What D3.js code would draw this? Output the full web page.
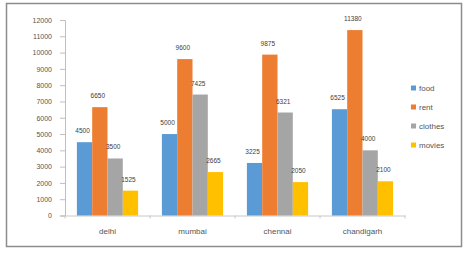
<!DOCTYPE html>
<html>
<head>
<meta charset="utf-8">
<script src="https://cdn.jsdelivr.net/npm/d3@7"></script>
<style>
  body { margin: 0; background: #fff; }
  svg { font-family: "Liberation Sans", Arial, sans-serif; }
</style>
</head>
<body>
<div id="chart"></div>
<script>
const CITIES = ["delhi", "mumbai", "chennai", "chandigarh"];
const SERIES = ["food", "rent", "clothes", "movies"];
const COLORS = ["#5B9BD5", "#ED7D31", "#A5A5A5", "#FFC000"];

const FOOD = [4500, 5000, 3225, 6525];
const RENT = [6650, 9600, 9875, 11380];
const CLOTHES = [3500, 7425, 6321, 4000];
const MOVIES = [1525, 2665, 2050, 2100];

const Y_TICKS = [0, 1000, 2000, 3000, 4000, 5000, 6000, 7000, 8000, 9000, 10000, 11000, 12000];

const FRAME_WIDTH = 466;
const FRAME_HEIGHT = 254;
const PLOT = {left: 65, right: 405, top: 20, bottom: 215.5};

const values = [FOOD, RENT, CLOTHES, MOVIES];

const FRAME = d3.select("#chart")
                .append("svg")
                  .attr("width", FRAME_WIDTH)
                  .attr("height", FRAME_HEIGHT);

// outer chart border
FRAME.append("rect")
     .attr("x", 6.5).attr("y", 3.5)
     .attr("width", 455).attr("height", 243)
     .attr("fill", "#fff")
     .attr("stroke", "#8c8c8c")
     .attr("stroke-width", 1.5);

const X0 = d3.scaleBand()
             .domain(CITIES)
             .range([PLOT.left, PLOT.right])
             .paddingInner(0.28)
             .paddingOuter(0.14);

const X1 = d3.scaleBand()
             .domain(SERIES)
             .range([0, X0.bandwidth()]);

const Y = d3.scaleLinear()
            .domain([0, 12000])
            .range([PLOT.bottom, PLOT.top]);

// y axis
const yAxis = FRAME.append("g")
     .attr("transform", "translate(" + PLOT.left + ",0)")
     .call(d3.axisLeft(Y).tickValues(Y_TICKS).tickSize(5).tickPadding(8).tickFormat(d3.format("d")));
yAxis.select(".domain").attr("stroke", "#bfbfbf");
yAxis.selectAll(".tick line").attr("stroke", "#bfbfbf");
yAxis.selectAll("text").attr("font-size", "7px").attr("fill", "#555");

// x axis
const xAxis = FRAME.append("g")
     .attr("transform", "translate(0," + PLOT.bottom + ")")
     .call(d3.axisBottom(X0).tickSize(0).tickPadding(13));
xAxis.select(".domain").attr("stroke", "#c8c8c8");
xAxis.selectAll("text").attr("font-size", "8px").attr("fill", "#555");

// small marks between categories
const step = X0.step();
FRAME.selectAll("xmarks")
     .data(d3.range(CITIES.length + 1))
     .enter()
     .append("line")
       .attr("x1", (i) => PLOT.left + i * step)
       .attr("x2", (i) => PLOT.left + i * step)
       .attr("y1", PLOT.bottom)
       .attr("y2", PLOT.bottom + 3)
       .attr("stroke", "#c8c8c8");

// bars
const rows = [];
CITIES.forEach((c, ci) => {
  SERIES.forEach((s, si) => {
    rows.push({city: c, series: s, value: values[si][ci], color: COLORS[si]});
  });
});

FRAME.selectAll("bars")
     .data(rows)
     .enter()
     .append("rect")
       .attr("x", (d) => X0(d.city) + X1(d.series))
       .attr("y", (d) => Y(d.value))
       .attr("width", X1.bandwidth())
       .attr("height", (d) => Y(0) - Y(d.value))
       .attr("fill", (d) => d.color);

// data labels
FRAME.selectAll("labels")
     .data(rows)
     .enter()
     .append("text")
       .attr("x", (d) => X0(d.city) + X1(d.series) + X1.bandwidth() / 2 - 2)
       .attr("y", (d) => Y(d.value) - 9)
       .attr("text-anchor", "middle")
       .attr("font-size", "6.5px")
       .attr("fill", "#404040")
       .text((d) => d.value);

// legend
const legend = FRAME.selectAll("legend")
     .data(SERIES)
     .enter()
     .append("g")
       .attr("transform", (d, i) => "translate(411," + (88 + i * 19) + ")");
legend.append("rect")
      .attr("x", 0).attr("y", -2.5)
      .attr("width", 5).attr("height", 5)
      .attr("fill", (d, i) => COLORS[i]);
legend.append("text")
      .attr("x", 8).attr("y", 3)
      .attr("font-size", "8px")
      .attr("fill", "#555")
      .text((d) => d);
</script>
</body>
</html>
